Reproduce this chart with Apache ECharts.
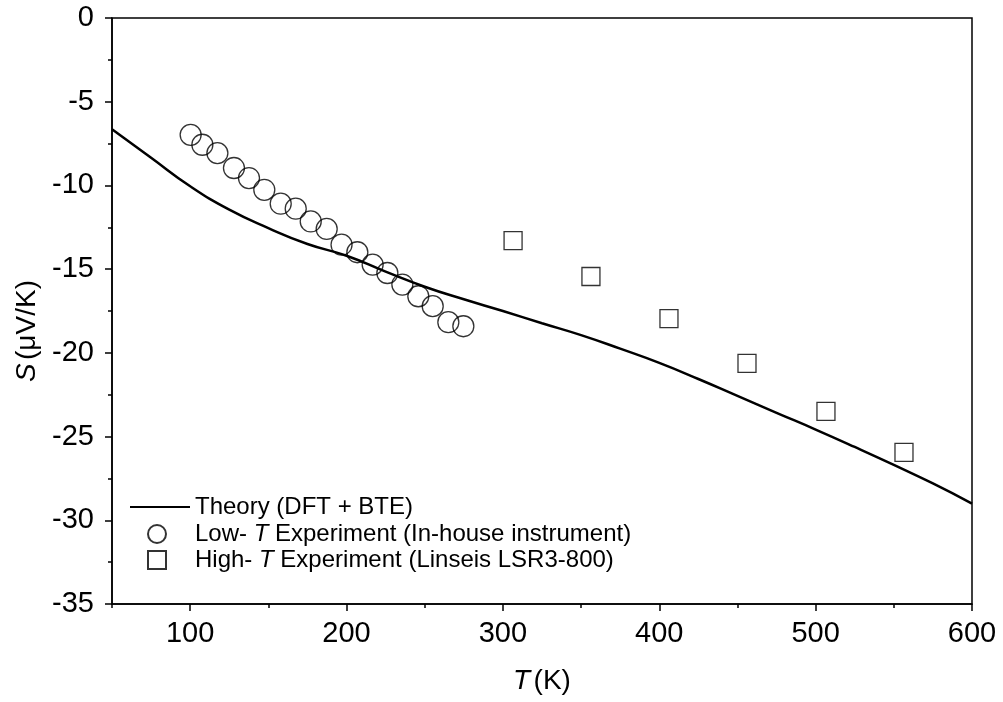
<!DOCTYPE html>
<html>
<head>
<meta charset="utf-8">
<script src="https://cdn.jsdelivr.net/npm/echarts@6/dist/echarts.min.js"></script>
<style>html,body{margin:0;padding:0;background:#fff}#c{width:1003px;height:702px}</style>
</head>
<body>
<div id="c"></div>
<script>
// Theory curve (DFT + BTE)
const theoryT = [50,75,100,125,150,175,200,225,250,275,300,325,350,375,400,425,450,475,500,525,550,575,600];
const theoryS = [-6.65,-8.35,-10.05,-11.45,-12.55,-13.5,-14.2,-15.15,-16.05,-16.8,-17.5,-18.23,-18.94,-19.75,-20.6,-21.56,-22.57,-23.58,-24.58,-25.62,-26.69,-27.8,-29.0];
// Low-T experiment
const lowT = [100.3,107.8,117.4,128.0,137.6,147.4,157.9,167.5,177.1,187.3,196.8,206.9,216.7,226.1,235.7,245.9,255.1,265.1,274.7];
const lowS = [-6.98,-7.57,-8.07,-8.96,-9.56,-10.26,-11.09,-11.39,-12.15,-12.6,-13.54,-13.99,-14.73,-15.23,-15.92,-16.62,-17.21,-18.17,-18.41];
// High-T experiment
const highT = [306.5,356.3,406.2,456.1,506.6,556.5];
const highS = [-13.3,-15.44,-17.95,-20.63,-23.49,-25.94];
// Ticks
const xMajorTicks = [100,200,300,400,500,600];

const names = ['Theory (DFT + BTE)','Low-T Experiment (In-house instrument)','High-T Experiment (Linseis LSR3-800)'];
const font = 'Arial, "Liberation Sans", sans-serif';
const zip = (a,b) => a.map((v,i)=>[v,b[i]]);

const chart = echarts.init(document.getElementById('c'), null, {renderer:'canvas'});
const legendRich = {
  n:{fontFamily:font,fontSize:24,color:'#000'},
  i:{fontFamily:font,fontSize:24,color:'#000',fontStyle:'italic'}
};
const legendFmt = (name) => {
  if (name === names[1]) return '{n|Low- }{i|T}{n| Experiment (In-house instrument)}';
  if (name === names[2]) return '{n|High- }{i|T}{n| Experiment (Linseis LSR3-800)}';
  return '{n|' + name + '}';
};
const nameRich = {
  n:{fontFamily:font,fontSize:28,color:'#000'},
  i:{fontFamily:font,fontSize:28,color:'#000',fontStyle:'italic'}
};
chart.setOption({
  animation:false,
  backgroundColor:'#fff',
  grid:{left:112,right:31,top:18,bottom:98,show:true,borderColor:'#000',borderWidth:1.5,backgroundColor:'transparent'},
  legend:[
    {data:[{name:names[0],icon:'rect'}],left:125,top:490,orient:'vertical',itemWidth:60,itemHeight:2,itemGap:0,
     formatter:legendFmt,textStyle:{rich:legendRich}},
    {data:[names[1],names[2]],left:142,top:517,orient:'vertical',itemWidth:18,itemHeight:18,itemGap:2,
     formatter:legendFmt,textStyle:{rich:legendRich,padding:[0,0,0,24]}}
  ],
  xAxis:[
    {type:'value',min:50,max:600,interval:50,position:'bottom',
     axisLine:{show:true,onZero:false,lineStyle:{color:'#000',width:1.5}},
     axisTick:{show:true,inside:false,length:7,customValues:xMajorTicks,lineStyle:{color:'#000',width:1.5}},
     axisLabel:{show:true,customValues:xMajorTicks,margin:15,fontFamily:font,fontSize:29,color:'#000'},
     splitLine:{show:false},
     name:'{i|T} {n|(K)}',nameLocation:'middle',nameGap:63,
     nameTextStyle:{rich:nameRich}
    },
    {type:'value',min:50,max:600,interval:50,position:'bottom',
     axisLine:{show:false,onZero:false},
     axisTick:{show:true,inside:false,length:4,lineStyle:{color:'#000',width:1.5}},
     axisLabel:{show:false},splitLine:{show:false}}
  ],
  yAxis:{type:'value',min:-35,max:0,interval:5,
    axisLine:{show:true,onZero:false,lineStyle:{color:'#000',width:1.5}},
    axisTick:{show:true,inside:false,length:7,lineStyle:{color:'#000',width:1.5}},
    minorTick:{show:true,splitNumber:2,length:4,lineStyle:{color:'#000',width:1.5}},
    axisLabel:{margin:18,fontFamily:font,fontSize:29,color:'#000'},
    splitLine:{show:false},
    name:'{i|S} {n|(μV/K)}',nameLocation:'middle',nameGap:70,nameRotate:90,
    nameTextStyle:{rich:nameRich,padding:[0,40,0,0]}
  },
  series:[
    {name:names[0],type:'line',data:zip(theoryT,theoryS),smooth:true,showSymbol:false,symbol:'none',
     lineStyle:{color:'#000',width:2.5},itemStyle:{color:'#000'},z:2},
    {name:names[1],type:'scatter',data:zip(lowT,lowS),symbol:'circle',symbolSize:21,
     itemStyle:{color:'rgba(255,255,255,0)',borderColor:'#000',borderWidth:1.3},z:3},
    {name:names[2],type:'scatter',data:zip(highT,highS),symbol:'rect',symbolSize:18,
     itemStyle:{color:'rgba(255,255,255,0)',borderColor:'#000',borderWidth:1.3},z:3}
  ]
});
</script>
</body>
</html>
